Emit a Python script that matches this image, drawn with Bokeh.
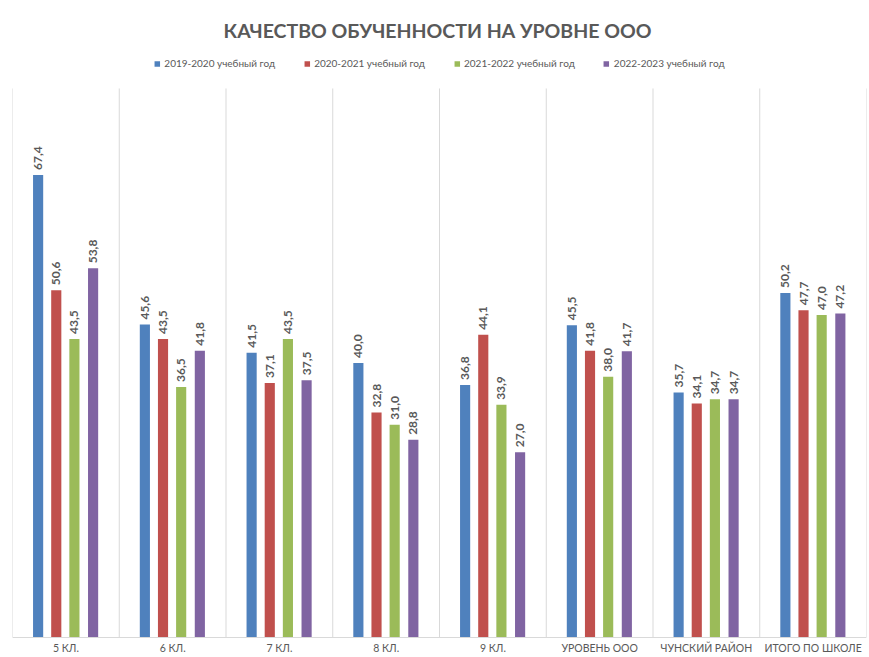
from bokeh.plotting import figure
from bokeh.models import Range1d, ColumnDataSource, Legend, LegendItem, Label, Span
from bokeh.transform import dodge
from bokeh.core.properties import value
from bokeh.embed import file_html
from bokeh.resources import INLINE
import math

title_text = "КАЧЕСТВО ОБУЧЕННОСТИ НА УРОВНЕ ООО"
categories = ["5 КЛ.", "6 КЛ.", "7 КЛ.", "8 КЛ.", "9 КЛ.", "УРОВЕНЬ ООО", "ЧУНСКИЙ РАЙОН", "ИТОГО ПО ШКОЛЕ"]
series_names = ["2019-2020 учебный год", "2020-2021 учебный год", "2021-2022 учебный год", "2022-2023 учебный год"]
s2019 = [67.4, 45.6, 41.5, 40.0, 36.8, 45.5, 35.7, 50.2]
s2020 = [50.6, 43.5, 37.1, 32.8, 44.1, 41.8, 34.1, 47.7]
s2021 = [43.5, 36.5, 43.5, 31.0, 33.9, 38.0, 34.7, 47.0]
s2022 = [53.8, 41.8, 37.5, 28.8, 27.0, 41.7, 34.7, 47.2]
colors = ["#4F81BD", "#C0504D", "#9BBB59", "#8064A2"]
axis_max = 80

FONT = "Lato"
GRAY = "#595959"

n = len(categories)
xc = [i + 0.5 for i in range(n)]

p = figure(width=869, height=657, output_backend="svg", toolbar_location=None,
           x_range=Range1d(0, n), y_range=Range1d(-2.914, 92.823),
           min_border_left=12, min_border_right=3, min_border_top=0, min_border_bottom=0)
p.outline_line_color = None
p.xaxis.visible = False
p.yaxis.visible = False
p.ygrid.grid_line_color = None
p.xgrid.grid_line_color = None

# category separators (plot area gridlines)
p.segment(x0=list(range(n + 1)), x1=list(range(n + 1)), y0=0, y1=axis_max,
          line_color="#D9D9D9", line_width=1)
# category axis line
p.add_layout(Span(location=0, dimension="width", line_color="#D9D9D9", line_width=1))

# category labels
p.text(x=xc, y=[-1.457] * n, text=categories, text_align="center", text_baseline="middle",
       text_font=value(FONT), text_font_size="10.5px", text_color=GRAY)

offsets = [-0.26, -0.09, 0.08, 0.255]
series = [s2019, s2020, s2021, s2022]
items = []
for name, vals, col, off in zip(series_names, series, colors, offsets):
    src = ColumnDataSource(dict(x=xc, y=vals, lab=[f"{v:.1f}".replace(".", ",") for v in vals]))
    r = p.vbar(x=dodge("x", off, range=p.x_range), top="y", bottom=0, width=0.095,
               source=src, fill_color=col, line_color=None)
    p.text(x=dodge("x", off, range=p.x_range), y="y", text="lab", source=src,
           angle=math.pi / 2, text_align="left", text_baseline="middle",
           y_offset=-5, text_font=value(FONT), text_font_size="12px",
           text_font_style="bold", text_color=GRAY)
    items.append(LegendItem(label=name, renderers=[r]))

legend = Legend(items=items, orientation="horizontal", location="top_center",
                label_text_font=FONT, label_text_font_size="10px", label_text_color=GRAY,
                glyph_width=7, glyph_height=7, label_height=12, label_standoff=4, spacing=28,
                border_line_color=None, background_fill_alpha=0, padding=0, margin=57)
p.add_layout(legend, "center")

p.add_layout(Label(x=n / 2, y=88.452, x_offset=-2, text=title_text, text_align="center",
                   text_baseline="middle", text_font=FONT, text_font_size="19.5px",
                   text_font_style="bold", text_color=GRAY))

open("out.html", "w").write(file_html(p, INLINE))
